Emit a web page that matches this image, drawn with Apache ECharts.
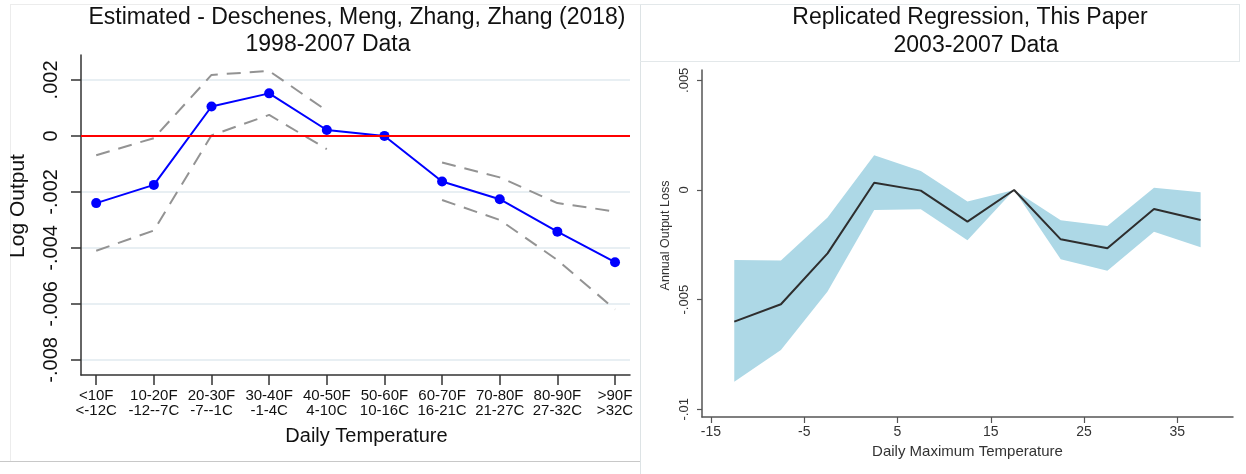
<!DOCTYPE html>
<html>
<head>
<meta charset="utf-8">
<script src="https://cdn.jsdelivr.net/npm/echarts@6/dist/echarts.min.js"></script>
<style>
html,body{margin:0;padding:0;background:#fff;}
#chart{width:1246px;height:474px;}
</style>
</head>
<body>
<div id="chart"></div>
<script>
// ---- Left panel data (Deschenes, Meng, Zhang, Zhang 2018) ----
const tempF = ['<10F','10-20F','20-30F','30-40F','40-50F','50-60F','60-70F','70-80F','80-90F','>90F'];
const tempC = ['<-12C','-12--7C','-7--1C','-1-4C','4-10C','10-16C','16-21C','21-27C','27-32C','>32C'];
const leftEstimate = [-0.00240, -0.00175, 0.00105, 0.00152, 0.00021, 0, -0.00163, -0.00226, -0.00342, -0.00451];
const leftUpper    = [-0.00069, -0.00008, 0.00218, 0.00232, 0.00090, null, -0.00095, -0.00148, -0.00240, -0.00270];
const leftLower    = [-0.00410, -0.00338, 0.00002, 0.00075, -0.00047, null, -0.00229, -0.00300, -0.00443, -0.00620];
const leftYTicks   = [-0.008, -0.006, -0.004, -0.002, 0, 0.002];

// ---- Right panel data (Replicated regression) ----
const rightX        = [-12.5, -7.5, -2.5, 2.5, 7.5, 12.5, 17.5, 22.5, 27.5, 32.5, 37.5];
const rightEstimate = [-0.00600, -0.00521, -0.00289, 0.00033, -0.00003, -0.00144, 0, -0.00225, -0.00266, -0.00087, -0.00137];
const rightUpper    = [-0.00319, -0.00322, -0.00125, 0.00158, 0.00087, -0.00053, 0, -0.00138, -0.00164, 0.00010, -0.00010];
const rightLower    = [-0.00874, -0.00729, -0.00463, -0.00091, -0.00088, -0.00229, 0, -0.00316, -0.00368, -0.00190, -0.00261];
const rightXTicks   = [-15, -5, 5, 15, 25, 35];
const rightYTicks   = [-0.01, -0.005, 0, 0.005];

const FONT = '"Liberation Sans", Arial, sans-serif';
const stataFmt = v => v === 0 ? '0' : String(+v.toFixed(4)).replace(/^(-?)0\./, '$1.');
const catIdx = tempF.map((_, i) => i);
const pair = (xs, ys) => ys.map((v, i) => [xs[i], v === null ? '-' : v]);
const bandRows = rightX.map((x, i) => [x, rightLower[i], rightUpper[i]]);

const chart = echarts.init(document.getElementById('chart'), null, {renderer: 'canvas'});
const option = {
  animation: false,
  backgroundColor: '#ffffff',
  textStyle: {fontFamily: FONT},
  grid: [
    {left: 81, right: 616, top: 55, bottom: 99},
    {left: 702, right: 13, top: 70, bottom: 57}
  ],
  xAxis: [
    {
      gridIndex: 0, type: 'value', min: -0.264, max: 9.26,
      axisLine: {show: true, onZero: false, lineStyle: {color: '#333', width: 1.5}},
      axisTick: {show: true, customValues: catIdx, length: 10, lineStyle: {color: '#333', width: 1.5}},
      axisLabel: {customValues: catIdx, formatter: v => tempF[Math.round(v)] + '\n' + tempC[Math.round(v)],
                  fontSize: 15, lineHeight: 15, color: '#111', margin: 13, fontFamily: FONT},
      splitLine: {show: false},
      name: 'Daily Temperature', nameLocation: 'middle', nameGap: 51,
      nameTextStyle: {fontSize: 20, color: '#111', fontFamily: FONT, padding: [0, 0, 0, 22]}
    },
    {
      gridIndex: 1, type: 'value', min: -15.96, max: 40.97,
      axisLine: {show: true, onZero: false, lineStyle: {color: '#555', width: 1.5}},
      axisTick: {show: true, customValues: rightXTicks, length: 6, lineStyle: {color: '#555', width: 1.2}},
      axisLabel: {customValues: rightXTicks, formatter: v => String(v), fontSize: 14, color: '#333', margin: 8, fontFamily: FONT},
      splitLine: {show: false},
      name: 'Daily Maximum Temperature', nameLocation: 'middle', nameGap: 24,
      nameTextStyle: {fontSize: 15, color: '#333', fontFamily: FONT}
    }
  ],
  yAxis: [
    {
      gridIndex: 0, type: 'value', min: -0.00854, max: 0.00289,
      axisLine: {show: true, onZero: false, lineStyle: {color: '#333', width: 1.5}},
      axisTick: {show: true, customValues: leftYTicks, length: 10, lineStyle: {color: '#333', width: 1.5}},
      axisLabel: {customValues: leftYTicks, formatter: stataFmt, rotate: 90, fontSize: 20, color: '#111', margin: 20, fontFamily: FONT},
      splitLine: {show: true, lineStyle: {color: '#e0eaef', width: 1.5}},
      name: 'Log Output', nameLocation: 'middle', nameGap: 52,
      nameTextStyle: {fontSize: 21, color: '#111', fontFamily: FONT, padding: [0, 0, 0, 18]}
    },
    {
      gridIndex: 1, type: 'value', min: -0.01035, max: 0.00547,
      axisLine: {show: true, onZero: false, lineStyle: {color: '#555', width: 1.5}},
      axisTick: {show: true, customValues: rightYTicks, length: 5, lineStyle: {color: '#555', width: 1.2}},
      axisLabel: {customValues: rightYTicks, formatter: stataFmt, rotate: 90, fontSize: 13, color: '#333', margin: 11, fontFamily: FONT},
      splitLine: {show: false},
      name: 'Annual Output Loss', nameLocation: 'middle', nameGap: 30,
      nameTextStyle: {fontSize: 12.5, color: '#333', fontFamily: FONT, padding: [0, 0, 0, 16]}
    }
  ],
  series: [
    {
      name: 'Upper CI', type: 'line', xAxisIndex: 0, yAxisIndex: 0,
      data: pair(catIdx, leftUpper), connectNulls: false, symbol: 'none', silent: true,
      lineStyle: {color: '#939393', width: 2, type: [14, 9]},
      markLine: {
        silent: true, symbol: ['none', 'none'], label: {show: false},
        lineStyle: {color: '#ff0000', width: 2, type: 'solid'},
        data: [{yAxis: 0}]
      }
    },
    {
      name: 'Lower CI', type: 'line', xAxisIndex: 0, yAxisIndex: 0,
      data: pair(catIdx, leftLower), connectNulls: false, symbol: 'none', silent: true,
      lineStyle: {color: '#939393', width: 2, type: [14, 9]}
    },
    {
      name: 'Estimate', type: 'line', xAxisIndex: 0, yAxisIndex: 0,
      data: pair(catIdx, leftEstimate), symbol: 'circle', symbolSize: 10,
      itemStyle: {color: '#0000ff'}, lineStyle: {color: '#0000ff', width: 2}
    },
    {
      name: 'Band', type: 'custom', xAxisIndex: 1, yAxisIndex: 1,
      data: bandRows, silent: true,
      encode: {x: 0, y: [1, 2]},
      renderItem: function (params, api) {
        if (params.dataIndex !== 0) return null;
        const top = bandRows.map(r => api.coord([r[0], r[2]]));
        const bottom = bandRows.map(r => api.coord([r[0], r[1]])).reverse();
        return {
          type: 'polygon',
          shape: {points: top.concat(bottom)},
          style: {fill: '#add8e6', stroke: 'none'}
        };
      }
    },
    {
      name: 'Replicated', type: 'line', xAxisIndex: 1, yAxisIndex: 1,
      data: pair(rightX, rightEstimate), symbol: 'none', z: 3,
      lineStyle: {color: '#2e2e2e', width: 2}
    }
  ],
  graphic: [
    {type: 'line', silent: true, shape: {x1: 0, y1: 461.5, x2: 640, y2: 461.5}, style: {stroke: '#c8c8c8', lineWidth: 1}},
    {type: 'line', silent: true, shape: {x1: 10.5, y1: 4, x2: 10.5, y2: 461}, style: {stroke: '#ececec', lineWidth: 1}},
    {type: 'line', silent: true, shape: {x1: 10, y1: 4.5, x2: 640, y2: 4.5}, style: {stroke: '#ececec', lineWidth: 1}},
    {type: 'line', silent: true, shape: {x1: 640.5, y1: 4, x2: 640.5, y2: 474}, style: {stroke: '#dde3e5', lineWidth: 1}},
    {type: 'line', silent: true, shape: {x1: 640, y1: 4.5, x2: 1240, y2: 4.5}, style: {stroke: '#e3e8ea', lineWidth: 1}},
    {type: 'line', silent: true, shape: {x1: 1239.5, y1: 4, x2: 1239.5, y2: 62}, style: {stroke: '#e3e8ea', lineWidth: 1}},
    {type: 'line', silent: true, shape: {x1: 640, y1: 61.5, x2: 1240, y2: 61.5}, style: {stroke: '#e3e8ea', lineWidth: 1}},
    {type: 'text', silent: true, x: 357, y: 18, style: {text: 'Estimated - Deschenes, Meng, Zhang, Zhang (2018)', font: '23px ' + FONT, fill: '#111', align: 'center', verticalAlign: 'middle'}},
    {type: 'text', silent: true, x: 328, y: 45, style: {text: '1998-2007 Data', font: '23px ' + FONT, fill: '#111', align: 'center', verticalAlign: 'middle'}},
    {type: 'text', silent: true, x: 970, y: 18, style: {text: 'Replicated Regression, This Paper', font: '23px ' + FONT, fill: '#111', align: 'center', verticalAlign: 'middle'}},
    {type: 'text', silent: true, x: 976, y: 46, style: {text: '2003-2007 Data', font: '23px ' + FONT, fill: '#111', align: 'center', verticalAlign: 'middle'}}
  ]
};
chart.setOption(option);
</script>
</body>
</html>
